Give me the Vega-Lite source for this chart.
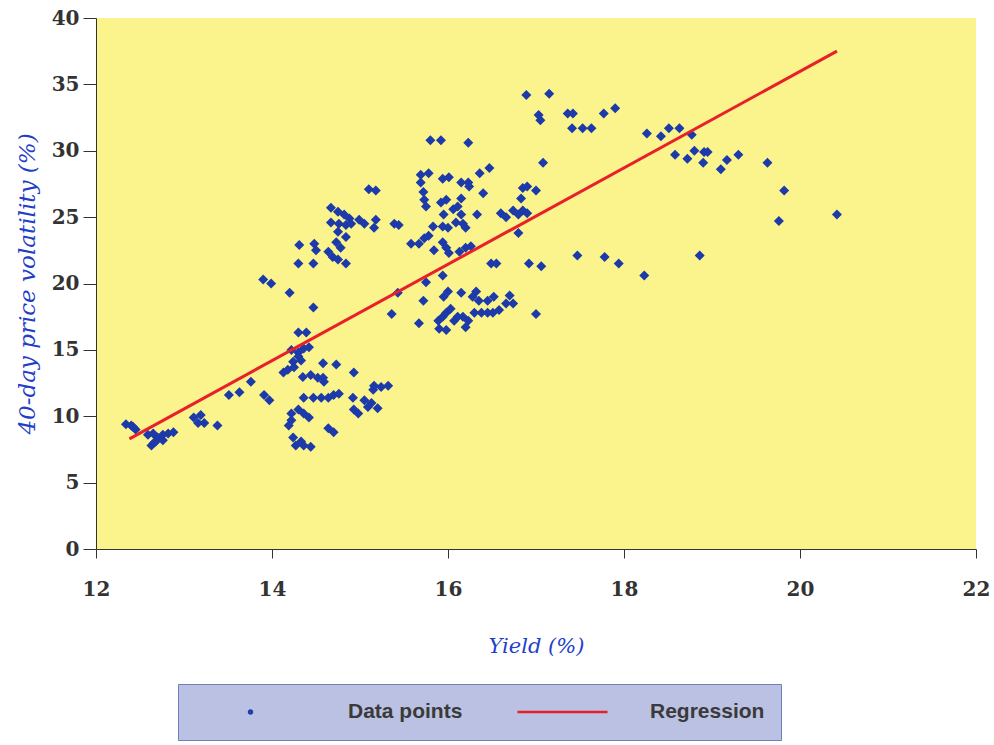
{
  "$schema": "https://vega.github.io/schema/vega-lite/v6.json",
  "width": 880,
  "height": 531,
  "autosize": "none",
  "padding": {"left": 96, "top": 18, "right": 18, "bottom": 196},
  "background": "#ffffff",
  "view": {"fill": "#fbf38c", "stroke": null},
  "config": {
    "view": {"fill": "#fbf38c", "stroke": null},
    "axis": {
      "domainColor": "#333333",
      "tickColor": "#333333",
      "grid": false,
      "labelFlush": false,
      "labelFont": "DejaVu Serif",
      "labelFontWeight": "bold",
      "labelFontSize": 20,
      "labelColor": "#333333",
      "titleFont": "DejaVu Serif",
      "titleFontStyle": "italic",
      "titleFontWeight": "normal",
      "titleFontSize": 21,
      "titleColor": "#1f3fc8"
    }
  },
  "datasets": {
    "points": [
      {"x":12.34,"y":9.4},{"x":12.40,"y":9.3},{"x":12.45,"y":9.0},{"x":12.42,"y":9.2},
      {"x":12.59,"y":8.6},{"x":12.65,"y":8.7},{"x":12.70,"y":8.4},{"x":12.76,"y":8.6},{"x":12.82,"y":8.7},{"x":12.88,"y":8.8},{"x":12.63,"y":7.8},{"x":12.68,"y":8.1},{"x":12.76,"y":8.2},{"x":12.66,"y":8.0},
      {"x":13.11,"y":9.9},{"x":13.19,"y":10.1},{"x":13.23,"y":9.5},{"x":13.16,"y":9.5},{"x":13.38,"y":9.3},
      {"x":13.51,"y":11.6},{"x":13.63,"y":11.8},{"x":13.76,"y":12.6},{"x":13.91,"y":11.6},{"x":13.97,"y":11.2},
      {"x":13.90,"y":20.3},{"x":13.99,"y":20.0},{"x":14.20,"y":19.3},{"x":14.47,"y":18.2},
      {"x":14.31,"y":22.9},{"x":14.48,"y":23.0},{"x":14.50,"y":22.5},{"x":14.30,"y":21.5},{"x":14.47,"y":21.5},
      {"x":14.64,"y":22.4},{"x":14.69,"y":22.0},{"x":14.75,"y":21.8},{"x":14.84,"y":21.5},
      {"x":14.75,"y":23.9},{"x":14.84,"y":23.5},{"x":14.73,"y":23.1},{"x":14.78,"y":22.7},
      {"x":14.67,"y":25.7},{"x":14.75,"y":25.4},{"x":14.82,"y":25.2},{"x":14.88,"y":24.9},{"x":14.67,"y":24.6},{"x":14.76,"y":24.5},{"x":14.84,"y":24.4},{"x":14.90,"y":24.5},
      {"x":14.99,"y":24.8},{"x":15.05,"y":24.5},{"x":15.18,"y":24.8},{"x":15.16,"y":24.2},
      {"x":15.10,"y":27.1},{"x":15.18,"y":27.0},
      {"x":15.39,"y":24.5},{"x":15.44,"y":24.4},
      {"x":14.30,"y":16.3},{"x":14.39,"y":16.3},
      {"x":14.22,"y":15.0},{"x":14.30,"y":14.8},{"x":14.36,"y":15.1},{"x":14.42,"y":15.2},{"x":14.24,"y":14.1},{"x":14.30,"y":14.5},{"x":14.33,"y":14.2},{"x":14.13,"y":13.3},{"x":14.18,"y":13.5},{"x":14.25,"y":13.7},
      {"x":14.58,"y":14.0},{"x":14.73,"y":13.9},
      {"x":14.35,"y":12.95},{"x":14.44,"y":13.1},{"x":14.52,"y":12.9},{"x":14.59,"y":12.6},{"x":14.58,"y":12.9},
      {"x":14.93,"y":13.3},
      {"x":14.36,"y":11.4},{"x":14.47,"y":11.4},{"x":14.56,"y":11.4},{"x":14.64,"y":11.4},{"x":14.70,"y":11.6},{"x":14.76,"y":11.7},{"x":14.92,"y":11.4},
      {"x":15.15,"y":12.0},{"x":15.24,"y":12.2},{"x":15.32,"y":12.3},{"x":15.16,"y":12.3},
      {"x":15.05,"y":11.2},{"x":15.13,"y":11.0},{"x":15.20,"y":10.6},{"x":15.09,"y":10.7},{"x":14.98,"y":10.2},{"x":14.93,"y":10.5},
      {"x":14.22,"y":10.2},{"x":14.30,"y":10.5},{"x":14.36,"y":10.2},{"x":14.42,"y":9.9},{"x":14.22,"y":9.7},{"x":14.19,"y":9.3},
      {"x":14.64,"y":9.1},{"x":14.70,"y":8.8},
      {"x":14.24,"y":8.4},{"x":14.27,"y":7.8},{"x":14.36,"y":7.8},{"x":14.44,"y":7.7},{"x":14.33,"y":8.1},
      {"x":15.80,"y":30.8},{"x":15.92,"y":30.8},{"x":16.23,"y":30.6},
      {"x":15.69,"y":28.2},{"x":15.78,"y":28.3},{"x":15.69,"y":27.6},{"x":15.94,"y":27.9},{"x":16.01,"y":28.0},
      {"x":16.15,"y":27.6},{"x":16.23,"y":27.6},{"x":16.24,"y":27.3},{"x":16.36,"y":28.3},{"x":16.47,"y":28.7},{"x":16.40,"y":26.8},
      {"x":15.72,"y":26.9},{"x":15.73,"y":26.3},{"x":15.75,"y":25.8},{"x":15.92,"y":26.1},{"x":15.98,"y":26.3},{"x":16.15,"y":26.4},
      {"x":16.06,"y":25.6},{"x":16.11,"y":25.8},{"x":16.15,"y":25.2},{"x":15.95,"y":25.2},{"x":16.33,"y":25.2},
      {"x":16.09,"y":24.6},{"x":16.17,"y":24.5},{"x":16.20,"y":24.2},{"x":15.94,"y":24.3},{"x":16.00,"y":24.2},{"x":15.83,"y":24.3},
      {"x":15.58,"y":23.0},{"x":15.67,"y":23.0},{"x":15.73,"y":23.4},{"x":15.78,"y":23.6},
      {"x":15.84,"y":22.5},{"x":15.94,"y":23.1},{"x":15.98,"y":22.7},{"x":16.01,"y":22.3},{"x":16.13,"y":22.4},{"x":16.20,"y":22.7},{"x":16.26,"y":22.8},
      {"x":16.60,"y":25.3},{"x":16.66,"y":25.0},{"x":16.74,"y":25.5},{"x":16.80,"y":25.2},{"x":16.85,"y":25.5},{"x":16.90,"y":25.3},
      {"x":16.85,"y":27.2},{"x":16.90,"y":27.3},{"x":17.00,"y":27.0},{"x":16.83,"y":26.4},{"x":16.80,"y":23.8},
      {"x":16.49,"y":21.5},{"x":16.55,"y":21.5},{"x":16.92,"y":21.5},{"x":17.06,"y":21.3},
      {"x":15.94,"y":20.6},{"x":15.75,"y":20.1},{"x":15.43,"y":19.3},{"x":16.00,"y":19.4},{"x":15.95,"y":19.0},{"x":15.72,"y":18.7},{"x":16.15,"y":19.3},
      {"x":16.32,"y":19.4},{"x":16.28,"y":19.0},{"x":16.35,"y":18.7},{"x":16.45,"y":18.7},{"x":16.52,"y":19.0},{"x":16.70,"y":19.1},{"x":16.74,"y":18.5},{"x":16.66,"y":18.5},
      {"x":17.00,"y":17.7},{"x":15.36,"y":17.7},{"x":15.67,"y":17.0},
      {"x":15.89,"y":17.2},{"x":15.94,"y":17.5},{"x":15.98,"y":17.8},{"x":16.03,"y":18.1},{"x":16.07,"y":17.2},{"x":16.11,"y":17.5},{"x":16.17,"y":17.5},{"x":16.23,"y":17.2},{"x":16.20,"y":16.7},{"x":15.90,"y":16.6},{"x":15.98,"y":16.5},
      {"x":16.30,"y":17.8},{"x":16.38,"y":17.8},{"x":16.45,"y":17.8},{"x":16.51,"y":17.8},{"x":16.58,"y":18.0},
      {"x":16.89,"y":34.2},{"x":17.15,"y":34.3},{"x":17.03,"y":32.7},{"x":17.05,"y":32.3},{"x":17.36,"y":32.8},{"x":17.42,"y":32.8},{"x":17.41,"y":31.7},{"x":17.53,"y":31.7},{"x":17.63,"y":31.7},{"x":17.77,"y":32.8},{"x":17.90,"y":33.2},
      {"x":18.26,"y":31.3},{"x":18.42,"y":31.1},{"x":18.51,"y":31.7},{"x":18.63,"y":31.7},{"x":18.77,"y":31.2},
      {"x":18.58,"y":29.7},{"x":18.72,"y":29.4},{"x":18.80,"y":30.0},{"x":18.90,"y":29.1},{"x":18.91,"y":29.9},{"x":18.95,"y":29.9},{"x":19.10,"y":28.6},{"x":19.17,"y":29.3},{"x":19.30,"y":29.7},{"x":19.63,"y":29.1},{"x":19.82,"y":27.0},{"x":19.76,"y":24.7},{"x":20.42,"y":25.2},
      {"x":17.47,"y":22.1},{"x":17.78,"y":22.0},{"x":17.94,"y":21.5},{"x":18.23,"y":20.6},{"x":18.86,"y":22.1},
      {"x":17.08,"y":29.1}
    ],
    "regression": [
      {"x":12.38,"y":8.3},
      {"x":20.42,"y":37.5}
    ],
    "legendKeys": [
      {"series":"Data points"},
      {"series":"Regression"}
    ]
  },
  "layer": [
    {
      "data": {"name": "points"},
      "mark": {"type": "point", "shape": "diamond", "filled": true, "size": 100, "opacity": 1, "color": "#1c3aa9"},
      "encoding": {
        "x": {"field": "x", "type": "quantitative", "scale": {"domain": [12, 22], "nice": false, "zero": false},
          "axis": {"values": [12,14,16,18,20,22], "format": "d", "tickSize": 9, "labelPadding": 21, "title": "Yield (%)", "titlePadding": 36}},
        "y": {"field": "y", "type": "quantitative", "scale": {"domain": [0, 40], "nice": false},
          "axis": {"values": [0,5,10,15,20,25,30,35,40], "format": "d", "tickSize": 13, "labelPadding": 4, "title": "40-day price volatility (%)", "titleFontSize": 23, "titlePadding": 12}}
      }
    },
    {
      "data": {"name": "regression"},
      "mark": {"type": "line", "strokeWidth": 3, "color": "#e8202a"},
      "encoding": {
        "x": {"field": "x", "type": "quantitative"},
        "y": {"field": "y", "type": "quantitative"}
      }
    },
    {
      "data": {"name": "legendKeys"},
      "transform": [{"filter": "false"}],
      "mark": {"type": "point", "filled": false, "strokeWidth": 2.5, "opacity": 1},
      "encoding": {
        "color": {"field": "series", "type": "nominal",
          "scale": {"domain": ["Data points", "Regression"], "range": ["#1c3aa9", "#e8202a"]},
          "legend": {
            "title": null,
            "orient": "none",
            "legendX": 82,
            "legendY": 666,
            "direction": "horizontal",
            "fillColor": "#bac1e2",
            "strokeColor": "#6f7fb8",
            "padding": 16,
            "clipHeight": 24,
            "symbolStrokeWidth": 2.5,
            "labelFont": "Liberation Sans",
            "labelFontSize": 21,
            "labelFontWeight": "bold",
            "labelColor": "#3a3a3a",
            "labelOffset": 41,
            "columnPadding": 53
          }
        },
        "shape": {"field": "series", "type": "nominal",
          "scale": {"domain": ["Data points", "Regression"], "range": ["M-0.027,0A0.027,0.027,0,1,0,0.027,0A0.027,0.027,0,1,0,-0.027,0Z", "stroke"]}},
        "size": {"field": "series", "type": "nominal",
          "scale": {"domain": ["Data points", "Regression"], "range": [12100, 8100]}}
      }
    }
  ]
}
